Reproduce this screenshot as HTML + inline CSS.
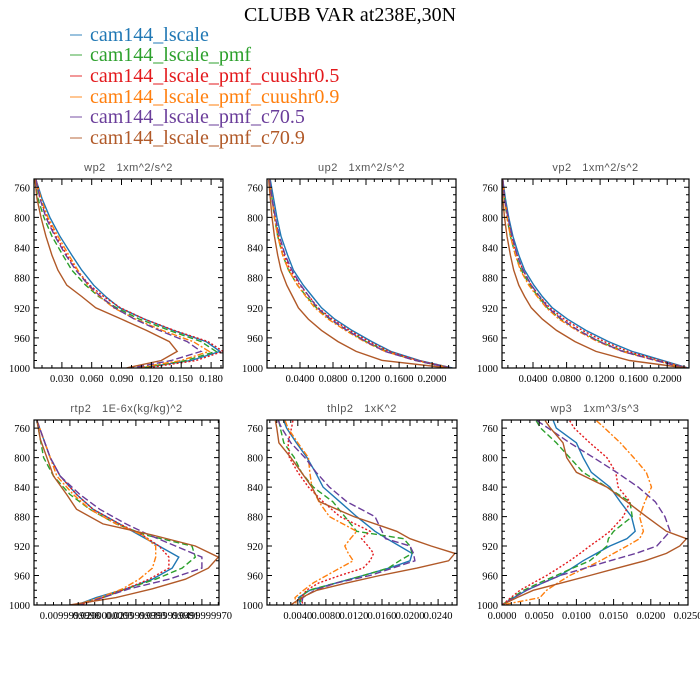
<!DOCTYPE html>
<html><head><meta charset="utf-8"><style>
html,body{margin:0;padding:0;background:#fff;}
svg{display:block;}
.tk{font-family:"Liberation Serif",serif;font-size:10.5px;fill:#000;}
.pt{font-family:"Liberation Sans",sans-serif;font-size:11px;fill:#555;letter-spacing:0.5px;white-space:pre;}
.lg{font-family:"Liberation Serif",serif;font-size:20px;}
</style></head><body>
<svg id="chart" width="700" height="700" viewBox="0 0 700 700" xmlns="http://www.w3.org/2000/svg">
<text x="350" y="21" text-anchor="middle" font-family="Liberation Serif, serif" font-size="20">CLUBB VAR at238E,30N</text>
<g id="legend"></g>
<g id="panels"></g>
</svg>
<script>
const SERIES = ["cam144_lscale","cam144_lscale_pmf","cam144_lscale_pmf_cuushr0.5","cam144_lscale_pmf_cuushr0.9","cam144_lscale_pmf_c70.5","cam144_lscale_pmf_c70.9"];
const COLORS = ["#1f77b4","#2ca02c","#e3191c","#ff7f0e","#6a3d9a","#b15928"];
const DASH = ["","6,3","2,2","6,2,2,2","7,3",""];
const LEV_A = [750,775,800,825,850,870,890,905,920,935,950,965,978,990,1000];
const LEV_B = [750,760,780,800,820,840,860,880,900,910,920,930,940,950,960,970,980,990,1000];
const Y_TICKS = [760,800,840,880,920,960,1000];

const wp2 = [
[.004,.010,.018,.028,.040,.050,.062,.074,.088,.113,.142,.175,.189,.160,.110],
[.003,.006,.012,.020,.031,.040,.054,.067,.085,.108,.138,.170,.185,.155,.110],
[.004,.008,.015,.024,.035,.045,.058,.072,.089,.113,.143,.177,.192,.165,.115],
[.004,.009,.016,.026,.037,.046,.056,.068,.082,.104,.131,.162,.178,.150,.105],
[.004,.008,.014,.023,.034,.044,.057,.069,.083,.103,.128,.156,.170,.140,.100],
[.003,.005,.009,.014,.020,.026,.035,.050,.064,.090,.115,.138,.146,.130,.095]];
const up2 = [
[.004,.008,.012,.017,.025,.032,.044,.055,.066,.082,.103,.127,.150,.185,.225],
[.003,.006,.009,.013,.019,.026,.037,.048,.060,.076,.097,.120,.145,.180,.222],
[.003,.006,.010,.014,.021,.028,.040,.051,.062,.079,.100,.124,.148,.183,.224],
[.003,.006,.009,.013,.019,.026,.037,.047,.058,.074,.095,.118,.143,.180,.222],
[.003,.006,.010,.015,.022,.030,.041,.051,.061,.077,.097,.120,.143,.180,.222],
[.002,.004,.006,.009,.013,.017,.024,.031,.038,.050,.066,.086,.108,.140,.220]];
const vp2 = [
[.004,.007,.011,.016,.023,.030,.041,.051,.063,.081,.103,.130,.158,.195,.225],
[.004,.006,.009,.013,.019,.026,.036,.046,.057,.073,.094,.120,.148,.188,.222],
[.004,.006,.010,.014,.021,.028,.038,.048,.060,.077,.099,.125,.153,.191,.224],
[.004,.006,.009,.013,.019,.025,.035,.045,.056,.071,.092,.117,.146,.186,.222],
[.004,.006,.010,.015,.021,.028,.038,.048,.058,.074,.094,.119,.147,.186,.222],
[.003,.004,.006,.009,.013,.017,.023,.030,.038,.051,.068,.090,.115,.155,.222]];
const rtp2 = [
[.000,.002,.004,.007,.012,.017,.025,.031,.037,.043,.041,.035,.027,.018,.012],
[.000,.001,.002,.005,.010,.016,.024,.033,.047,.048,.044,.036,.027,.020,.012],
[.000,.002,.004,.007,.012,.017,.025,.032,.037,.040,.040,.034,.027,.020,.013],
[.000,.002,.004,.006,.011,.016,.024,.032,.036,.036,.035,.031,.026,.019,.012],
[.000,.002,.004,.007,.013,.019,.027,.034,.042,.050,.050,.040,.028,.020,.013],
[.000,.001,.003,.005,.009,.012,.020,.035,.048,.055,.052,.045,.035,.024,.010]];
const thlp2 = [
[.0020,.0024,.0038,.0053,.0065,.0076,.0100,.0124,.0150,.0167,.0185,.0203,.0200,.0170,.0133,.0095,.0057,.0041,.0044],
[.0013,.0015,.0020,.0035,.0045,.0062,.0090,.0107,.0124,.0191,.0200,.0203,.0185,.0169,.0133,.0095,.0055,.0043,.0045],
[.0033,.0031,.0026,.0028,.0040,.0055,.0076,.0100,.0143,.0131,.0140,.0148,.0143,.0133,.0100,.0070,.0052,.0045,.0047],
[.0022,.0026,.0040,.0055,.0057,.0060,.0070,.0085,.0124,.0115,.0107,.0112,.0119,.0100,.0081,.0062,.0048,.0036,.0038],
[.0012,.0017,.0030,.0050,.0066,.0085,.0110,.0150,.0160,.0165,.0200,.0205,.0207,.0175,.0143,.0095,.0064,.0047,.0045],
[.0008,.0010,.0013,.0030,.0045,.0060,.0071,.0120,.0181,.0200,.0230,.0264,.0255,.0210,.0157,.0110,.0067,.0045,.0030]];
const wp3 = [
[.0069,.0073,.0100,.0109,.0120,.0145,.0159,.0174,.0179,.0168,.0145,.0127,.0109,.0094,.0078,.0055,.0033,.0016,0],
[.0046,.0052,.0073,.0091,.0109,.0141,.0172,.0175,.0150,.0143,.0141,.0130,.0118,.0095,.0073,.0050,.0029,.0014,0],
[.0091,.0097,.0118,.0141,.0153,.0156,.0172,.0163,.0145,.0132,.0118,.0105,.0091,.0076,.0060,.0042,.0024,.0012,0],
[.0127,.0138,.0159,.0177,.0194,.0201,.0192,.0185,.0190,.0185,.0168,.0150,.0132,.0112,.0091,.0075,.0060,.0051,0],
[.0047,.0062,.0091,.0123,.0154,.0183,.0206,.0219,.0226,.0217,.0208,.0180,.0145,.0112,.0078,.0055,.0033,.0016,0],
[.0058,.0065,.0082,.0087,.0100,.0141,.0168,.0194,.0221,.0248,.0239,.0221,.0192,.0155,.0118,.0080,.0042,.0020,0]];

const TICKS_WP2 = [0.03,0.06,0.09,0.12,0.15,0.18];
const LABELS_WP2 = ["0.030","0.060","0.090","0.120","0.150","0.180"];
const TICKS_UP2 = [0.04,0.08,0.12,0.16,0.20];
const LABELS_UP2 = ["0.0400","0.0800","0.1200","0.1600","0.2000"];
const TICKS_RTP2 = [0.01,0.02,0.03,0.04,0.05];
const LABELS_RTP2 = ["0.0099999998","0.0200000003","0.0299999993","0.0399999991","0.0499999970"];
const TICKS_THLP2 = [0.004,0.008,0.012,0.016,0.020,0.024];
const LABELS_THLP2 = ["0.0040","0.0080","0.0120","0.0160","0.0200","0.0240"];
const TICKS_WP3 = [0,0.005,0.010,0.015,0.020,0.025];
const LABELS_WP3 = ["0.0000","0.0050","0.0100","0.0150","0.0200","0.0250"];

const NS="http://www.w3.org/2000/svg";
function mk(tag, attrs, parent){const e=document.createElementNS(NS,tag);for(const k in attrs)e.setAttribute(k,attrs[k]);parent.appendChild(e);return e;}

const lg=document.getElementById('legend');
const LY=[35,55,76,97,117,138];
SERIES.forEach((s,i)=>{
  const l=mk('line',{x1:70,x2:82,y1:LY[i],y2:LY[i],stroke:COLORS[i],'stroke-width':1.5,'stroke-opacity':0.6},lg);
  
  
  const t=mk('text',{x:90,y:LY[i]+6,fill:COLORS[i],class:'lg'},lg);
  t.textContent=s;
  
  
});

const PANELS=[
 {name:'wp2',title:'wp2   1xm^2/s^2',x0:34,x1:223,y0:179,y1:368,xd:[0.002,0.192],lev:LEV_A,data:wp2,ticks:TICKS_WP2,labels:LABELS_WP2,minor:0.01},
 {name:'up2',title:'up2   1xm^2/s^2',x0:267,x1:456,y0:179,y1:368,xd:[0,0.229],lev:LEV_A,data:up2,ticks:TICKS_UP2,labels:LABELS_UP2,minor:0.01},
 {name:'vp2',title:'vp2   1xm^2/s^2',x0:502,x1:689,y0:179,y1:368,xd:[0.003,0.226],lev:LEV_A,data:vp2,ticks:TICKS_UP2,labels:LABELS_UP2,minor:0.01},
 {name:'rtp2',title:'rtp2   1E-6x(kg/kg)^2',x0:34,x1:219,y0:420,y1:605,xd:[-0.0009,0.0552],lev:LEV_A,data:rtp2,ticks:TICKS_RTP2,labels:LABELS_RTP2,minor:0.0025},
 {name:'thlp2',title:'thlp2   1xK^2',x0:267,x1:457,y0:420,y1:605,xd:[-0.0004,0.0267],lev:LEV_B,data:thlp2,ticks:TICKS_THLP2,labels:LABELS_THLP2,minor:0.001},
 {name:'wp3',title:'wp3   1xm^3/s^3',x0:502,x1:688,y0:420,y1:605,xd:[0,0.025],lev:LEV_B,data:wp3,ticks:TICKS_WP3,labels:LABELS_WP3,minor:0.00125}
];
const YD=[749,1000];
const root=document.getElementById('panels');
PANELS.forEach(P=>{
  const g=mk('g',{},root);
  
  
  const xs=v=>P.x0+(v-P.xd[0])/(P.xd[1]-P.xd[0])*(P.x1-P.x0);
  const ys=p=>P.y0+(p-YD[0])/(YD[1]-YD[0])*(P.y1-P.y0);
  const t=mk('text',{x:(P.x0+P.x1)/2,y:P.y0-8,'text-anchor':'middle',class:'pt','xml:space':'preserve'},g);
  t.textContent=P.title;
  
  
  const cid='clip-'+P.name;
  const cp=mk('clipPath',{id:cid},g);
  mk('rect',{x:P.x0,y:P.y0,width:P.x1-P.x0,height:P.y1-P.y0},cp);
  const lines=mk('g',{'clip-path':'url(#'+cid+')'},g);
  P.data.forEach((vals,i)=>{
    const d=vals.map((v,j)=>(j?'L':'M')+xs(v).toFixed(1)+','+ys(P.lev[j]).toFixed(1)).join('');
    const path=mk('path',{d:d,fill:'none',stroke:COLORS[i],'stroke-width':1.4,'stroke-dasharray':DASH[i]||'none'},lines);
    
    
  });
  const fr=mk('rect',{x:P.x0,y:P.y0,width:P.x1-P.x0,height:P.y1-P.y0,fill:'none',stroke:'#000','stroke-width':1.2},g);
  
  
  let tk='';
  for(let p=760;p<=1000;p+=10){
    const y=ys(p).toFixed(1);const L=(p%40===0)?5:3;
    tk+=`M${P.x0},${y}h${L}M${P.x1},${y}h${-L}`;
  }
  Y_TICKS.forEach(p=>{
    const yl=mk('text',{x:P.x0-4,y:ys(p)+4,'text-anchor':'end',class:'tk'},g);
    yl.textContent=p;
    
    
  });
  const n0=Math.ceil(P.xd[0]/P.minor),n1=Math.floor(P.xd[1]/P.minor);
  for(let n=n0;n<=n1;n++){const x=xs(n*P.minor).toFixed(1);tk+=`M${x},${P.y1}v-3M${x},${P.y0}v3`;}
  P.ticks.forEach((v,k)=>{
    const x=xs(v).toFixed(1);tk+=`M${x},${P.y1}v-6M${x},${P.y0}v6`;
    const xl=mk('text',{x:xs(v),y:P.y1+14,'text-anchor':'middle',class:'tk'},g);
    xl.textContent=P.labels[k];
    
    
  });
  const tp=mk('path',{d:tk,stroke:'#000','stroke-width':1,fill:'none'},g);
  
  
});
</script>
</body></html>
